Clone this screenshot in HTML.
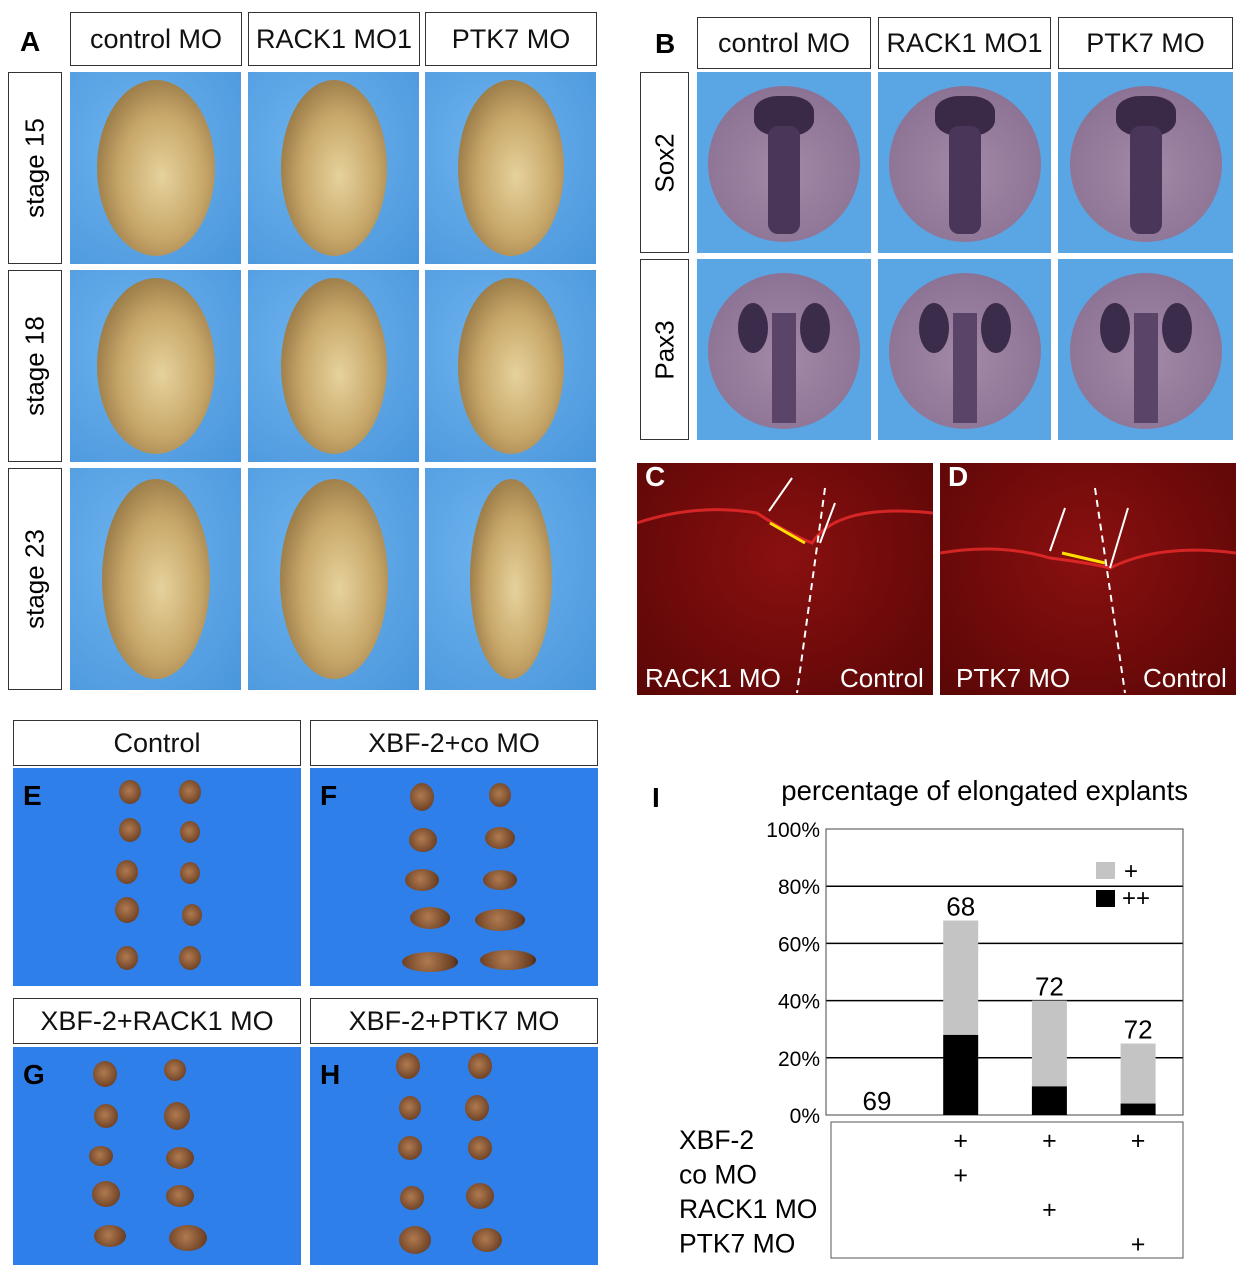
<!DOCTYPE html>
<html><head><meta charset="utf-8">
<style>
body{margin:0;width:1249px;height:1280px;background:#fff;position:relative;overflow:hidden;font-family:"Liberation Sans",sans-serif;}
.a{position:absolute;}
.hdr{position:absolute;border:1px solid #333;background:#fff;box-sizing:border-box;display:flex;align-items:center;justify-content:center;font-size:27px;color:#111;}
.vhdr{position:absolute;border:1px solid #333;background:#fff;box-sizing:border-box;}
.vhdr span{position:absolute;left:50%;top:50%;transform:translate(-50%,-50%) rotate(-90deg);white-space:nowrap;font-size:26px;}
.lbl{position:absolute;font-weight:bold;font-size:28px;color:#000;}
.photoA{position:absolute;background:radial-gradient(ellipse at 40% 40%,#6db3ee,#4a96dc);overflow:hidden;}
.emb{position:absolute;border-radius:50%;background:radial-gradient(ellipse at 55% 55%,#e6d29c 0%,#c8a86a 45%,#8a6a3a 85%,#4a3420 100%);}
.photoB{position:absolute;background:#5aa6e4;overflow:hidden;}
.circ{position:absolute;border-radius:50%;background:radial-gradient(circle at 50% 55%,#a48aa8,#8a7092 80%,#6e5a80);}
.photoE{position:absolute;background:#2f7fea;overflow:hidden;}
.ex{position:absolute;border-radius:50%;background:radial-gradient(circle at 45% 45%,#b07a50,#6a3e22 80%,#3a2012);}
.red{position:absolute;background:radial-gradient(ellipse at 50% 40%,#8a1010,#5a0606);overflow:hidden;}
.redtxt{position:absolute;color:#fff;font-size:26px;}
</style></head><body>
<!-- Panel A -->
<div class="lbl" style="left:20px;top:26px;">A</div>
<div class="hdr" style="left:70px;top:12px;width:172px;height:54px;">control MO</div>
<div class="hdr" style="left:248px;top:12px;width:172px;height:54px;">RACK1 MO1</div>
<div class="hdr" style="left:425px;top:12px;width:172px;height:54px;">PTK7 MO</div>
<div class="vhdr" style="left:8px;top:72px;width:54px;height:192px;"><span>stage 15</span></div>
<div class="vhdr" style="left:8px;top:270px;width:54px;height:192px;"><span>stage 18</span></div>
<div class="vhdr" style="left:8px;top:468px;width:54px;height:222px;"><span>stage 23</span></div>
<div id="gridA"></div>
<!-- Panel B -->
<div class="lbl" style="left:655px;top:28px;">B</div>
<div class="hdr" style="left:697px;top:17px;width:174px;height:52px;">control MO</div>
<div class="hdr" style="left:878px;top:17px;width:173px;height:52px;">RACK1 MO1</div>
<div class="hdr" style="left:1058px;top:17px;width:175px;height:52px;">PTK7 MO</div>
<div class="vhdr" style="left:640px;top:72px;width:49px;height:181px;"><span>Sox2</span></div>
<div class="vhdr" style="left:640px;top:259px;width:49px;height:181px;"><span>Pax3</span></div>
<div id="gridB"></div>
<!-- Panels C D -->
<div class="red" style="left:637px;top:463px;width:296px;height:232px;">
 <svg width="296" height="232" style="position:absolute;left:0;top:0"><path d="M0 60 Q60 40 120 50 Q150 70 175 80 Q200 40 296 50" stroke="#ff3030" stroke-width="3" fill="none" opacity=".7"/><line x1="188" y1="25" x2="160" y2="230" stroke="#fff" stroke-width="2" stroke-dasharray="7,5"/><line x1="155" y1="15" x2="132" y2="48" stroke="#fff" stroke-width="2"/><line x1="198" y1="40" x2="183" y2="80" stroke="#fff" stroke-width="2"/><line x1="133" y1="60" x2="168" y2="80" stroke="#ffe000" stroke-width="3"/></svg>
 <div class="redtxt" style="left:8px;top:-2px;font-weight:bold;font-size:28px;">C</div>
 <div class="redtxt" style="left:8px;top:200px;">RACK1 MO</div>
 <div class="redtxt" style="left:203px;top:200px;">Control</div>
</div>
<div class="red" style="left:940px;top:463px;width:296px;height:232px;">
 <svg width="296" height="232" style="position:absolute;left:0;top:0"><path d="M0 90 Q60 80 110 95 Q150 100 170 105 Q220 80 296 90" stroke="#ff3030" stroke-width="3" fill="none" opacity=".7"/><line x1="155" y1="25" x2="185" y2="230" stroke="#fff" stroke-width="2" stroke-dasharray="7,5"/><line x1="125" y1="45" x2="110" y2="88" stroke="#fff" stroke-width="2"/><line x1="188" y1="45" x2="170" y2="105" stroke="#fff" stroke-width="2"/><line x1="122" y1="90" x2="165" y2="100" stroke="#ffe000" stroke-width="3"/></svg>
 <div class="redtxt" style="left:8px;top:-2px;font-weight:bold;font-size:28px;">D</div>
 <div class="redtxt" style="left:16px;top:200px;">PTK7 MO</div>
 <div class="redtxt" style="left:203px;top:200px;">Control</div>
</div>
<!-- Panels E-H -->
<div class="hdr" style="left:13px;top:720px;width:288px;height:46px;">Control</div>
<div class="hdr" style="left:310px;top:720px;width:288px;height:46px;">XBF-2+co MO</div>
<div class="hdr" style="left:13px;top:998px;width:288px;height:46px;">XBF-2+RACK1 MO</div>
<div class="hdr" style="left:310px;top:998px;width:288px;height:46px;">XBF-2+PTK7 MO</div>
<div id="gridE"></div>
<!-- Panel I chart -->
<div class="lbl" style="left:652px;top:782px;">I</div>
<svg class="a" id="chart" style="left:0;top:0" width="1249" height="1280"></svg>
<script>
const categories=["Control","XBF-2+co MO","XBF-2+RACK1 MO","XBF-2+PTK7 MO"];
const totalPct=[0,68,40,25];
const strongPct=[0,28,10,4];
const nLabels=["69","68","72","72"];
const yTicks=[0,20,40,60,80,100];
const tickLabels=["0%","20%","40%","60%","80%","100%"];
const rowNames=["XBF-2","co MO","RACK1 MO","PTK7 MO"];
const rowMarks=[[0,1,1,1],[0,1,0,0],[0,0,1,0],[0,0,0,1]];

const NS="http://www.w3.org/2000/svg";
const svg=document.getElementById('chart');
const X0=826,X1=1183,Y0=1115,Y1=829;
const y=v=>Y0-(Y0-Y1)*v/100;
const cx=i=>872+i*88.7;
function mk(t,a,txt){const e=document.createElementNS(NS,t);for(const k in a)e.setAttribute(k,a[k]);if(txt!==undefined)e.textContent=txt;svg.appendChild(e);return e;}
let e=mk('text',{x:1188,y:800,'text-anchor':'end','font-size':27.5,'font-family':'Liberation Sans'},'percentage of elongated explants');


yTicks.forEach((t,i)=>{
 if(t>0&&t<100){const g=mk('line',{x1:X0,x2:X1,y1:y(t),y2:y(t),stroke:'#000','stroke-width':1.5});
 
 }
 const l=mk('text',{x:820,y:y(t)+8,'text-anchor':'end','font-size':21,'font-family':'Liberation Sans'},tickLabels[i]);
 
 
});
e=mk('rect',{x:X0,y:Y1,width:X1-X0,height:Y0-Y1,fill:'none',stroke:'#444','stroke-width':1});


categories.forEach((c,i)=>{
 const w=35,x=cx(i)-w/2;
 if(totalPct[i]>0){
 let r=mk('rect',{x:x,y:y(totalPct[i]),width:w,height:y(strongPct[i])-y(totalPct[i]),fill:'#c4c4c4'});
 
 
 r=mk('rect',{x:x,y:y(strongPct[i]),width:w,height:Y0-y(strongPct[i]),fill:'#000'});
 
 }
 const t=mk('text',{x:cx(i)+(i==0?5:0),y:y(totalPct[i])-5,'text-anchor':'middle','font-size':26,'font-family':'Liberation Sans'},nLabels[i]);
 
 
});
e=mk('rect',{x:1096,y:862,width:19,height:17,fill:'#c4c4c4'});


e=mk('rect',{x:1096,y:890,width:19,height:17,fill:'#000'});


e=mk('text',{x:1124,y:879,'font-size':24,'font-family':'Liberation Sans'},'+');


e=mk('text',{x:1122,y:906,'font-size':24,'font-family':'Liberation Sans'},'++');


e=mk('rect',{x:831,y:1122,width:352,height:136,fill:'none',stroke:'#555','stroke-width':1});


rowNames.forEach((n,r)=>{
 const yy=1149+r*34.5;
 const t=mk('text',{x:679,y:yy,'font-size':26.5,'font-family':'Liberation Sans'},n);
 
 
 rowMarks[r].forEach((m,i)=>{if(m){const p=mk('text',{x:cx(i),y:yy,'text-anchor':'middle','font-size':25,'font-family':'Liberation Sans'},'+');
 
 }});
});

// photo panels
function div(parent,cls,st){const d=document.createElement('div');d.className=cls;d.setAttribute('style',st);parent.appendChild(d);return d;}
const gA=document.getElementById('gridA');
const colsA=[70,248,425],rowsA=[[72,192],[270,192],[468,222]];
rowsA.forEach((r,ri)=>colsA.forEach((c,ci)=>{
 const p=div(gA,'photoA',`left:${c}px;top:${r[0]}px;width:171px;height:${r[1]}px;`);
 
 
 const w=ri==2?(ci==2?82:108):(ci==0?118:106),h=ri==2?200:176;
 const em=div(p,'emb',`left:${86-w/2}px;top:${r[1]/2-h/2}px;width:${w}px;height:${h}px;`);
 
 
}));
const gB=document.getElementById('gridB');
[[697,174],[878,173],[1058,175]].forEach((c,ci)=>[72,259].forEach((r,ri)=>{
 const p=div(gB,'photoB',`left:${c[0]}px;top:${r}px;width:${c[1]}px;height:181px;`);
 
 
 const cc=div(p,'circ',`left:${c[1]/2-76}px;top:14px;width:152px;height:156px;`);
 
 
 if(ri==0){div(cc,'a',`left:46px;top:10px;width:60px;height:40px;border-radius:40%;background:#3a2a48;`);
 div(cc,'a',`left:60px;top:40px;width:32px;height:108px;border-radius:10px;background:#4a3658;`);}
 else{div(cc,'a',`left:30px;top:30px;width:30px;height:50px;border-radius:50%;background:#3a2c4a;`);
 div(cc,'a',`left:92px;top:30px;width:30px;height:50px;border-radius:50%;background:#3a2c4a;`);
 div(cc,'a',`left:64px;top:40px;width:24px;height:110px;background:#5a4468;`);}
}));
const gE=document.getElementById('gridE');
const panelsE=[
 {l:13,t:768,lab:'E',pts:[[130,792,22,24],[190,792,22,24],[130,830,22,24],[190,832,20,22],[127,872,22,24],[190,873,20,22],[127,910,24,26],[192,915,20,22],[127,958,22,24],[190,958,22,24]]},
 {l:310,t:768,lab:'F',pts:[[422,797,24,28],[500,795,22,24],[423,840,28,24],[500,838,30,22],[422,880,34,22],[500,880,34,20],[430,918,40,22],[500,920,50,22],[430,962,56,20],[508,960,56,20]]},
 {l:13,t:1047,lab:'G',pts:[[105,1074,24,26],[175,1070,22,22],[106,1116,24,24],[177,1116,26,28],[101,1156,24,20],[180,1158,28,22],[106,1194,28,26],[180,1196,28,22],[110,1236,32,22],[188,1238,38,26]]},
 {l:310,t:1047,lab:'H',pts:[[408,1066,24,26],[480,1066,24,26],[410,1108,22,24],[477,1108,24,26],[410,1148,24,24],[480,1148,24,24],[412,1198,24,24],[480,1196,28,26],[415,1240,32,28],[487,1240,30,24]]}
];
panelsE.forEach(pn=>{
 const p=div(gE,'photoE',`left:${pn.l}px;top:${pn.t}px;width:288px;height:218px;`);
 
 
 const lb=div(p,'lbl',`left:10px;top:12px;`);lb.textContent=pn.lab;
 
 
 pn.pts.forEach(q=>{const e=div(p,'ex',`left:${q[0]-pn.l-q[2]/2}px;top:${q[1]-pn.t-q[3]/2}px;width:${q[2]}px;height:${q[3]}px;`);
 
 });
});
</script>
</body></html>
